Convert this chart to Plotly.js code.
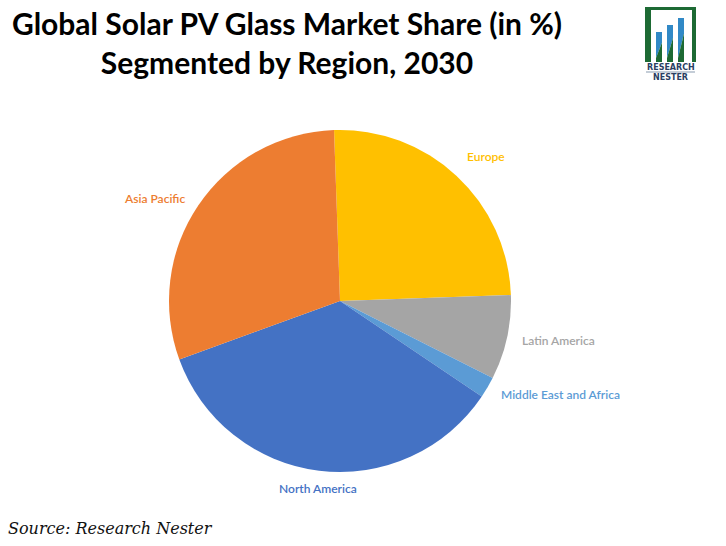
<!DOCTYPE html>
<html>
<head>
<meta charset="utf-8">
<script src="https://cdn.plot.ly/plotly-3.0.1.min.js"></script>
<style>html,body{margin:0;padding:0;background:#fff;}#chart{width:726px;height:546px;}</style>
</head>
<body>
<div id="chart"></div>
<script>
// ---- data ----
const regions = ['Europe', 'Latin America', 'Middle East and Africa', 'North America', 'Asia Pacific'];
const shares = [25, 8, 2, 35, 30];
const colors = ['#FFC000', '#A5A5A5', '#5B9BD5', '#4472C4', '#ED7D31'];
const titleLines = ['Global Solar PV Glass Market Share (in %)', 'Segmented by Region, 2030'];
const sourceText = 'Source: Research Nester';

// ---- geometry (pixels) ----
const W = 726, H = 546;
const cx = 340, cy = 301, R = 171;
const rotation = -2;
const px = x => x / W;
const py = y => 1 - y / H;

// label annotations computed from the slice angles
const total = shares.reduce((a, b) => a + b, 0);
let start = rotation;
const labelAnns = regions.map((name, i) => {
  const span = shares[i] / total * 360;
  const mid = (start + span / 2) * Math.PI / 180;
  start += span;
  const s = Math.sin(mid), c = Math.cos(mid);
  const rr = R + (Math.abs(c) > 0.9 ? 8 : 13);
  const x = cx + rr * s, y = cy - rr * c;
  const xanchor = s > 0.3 ? 'left' : (s < -0.3 ? 'right' : 'center');
  const yanchor = c > 0.6 ? 'bottom' : (c < -0.6 ? 'top' : 'middle');
  return {
    text: name, x: px(x), y: py(y), xref: 'paper', yref: 'paper',
    xanchor, yanchor, showarrow: false,
    font: {family: 'Lato, sans-serif', size: 12, color: colors[i], weight: 600}
  };
});

// logo shapes
const green = '#1d6a34', blue = '#3189c6';
const shapes = [];
function rectPx(x0, y0, x1, y1, color) {
  shapes.push({type: 'rect', xref: 'paper', yref: 'paper', x0: px(x0), x1: px(x1), y0: py(y1), y1: py(y0),
    fillcolor: color, line: {width: 0}, layer: 'above'});
}
function polyPx(pts, color) {
  const d = 'M' + pts.map(p => px(p[0]) + ',' + py(p[1])).join(' L') + ' Z';
  shapes.push({type: 'path', xref: 'paper', yref: 'paper', path: d, fillcolor: color, line: {width: 0}, layer: 'above'});
}
// frame
rectPx(645, 7, 696, 10, green);
rectPx(645, 7, 651, 62, green);
rectPx(692, 7, 696, 62, green);
// bars
[[656, 662, 32], [667, 673, 25], [678, 684, 18]].forEach(([x0, x1, t]) => {
  const b = 62;
  polyPx([[x0, t], [x1, t], [x1, t + (b - t) * 0.35], [x0, b - 4]], blue);
  polyPx([[x1, t + (b - t) * 0.35], [x1, b], [x0, b], [x0, b - 4]], green);
});
// underline in logo
rectPx(646, 71.5, 695, 72.5, '#8a9bb0');

const logoAnns = [
  {text: '<b>RESEARCH</b>', x: px(670.5), y: py(67), xref: 'paper', yref: 'paper', showarrow: false,
   xanchor: 'center', yanchor: 'middle', font: {family: 'DejaVu Sans', size: 8, color: '#2b3f63'}},
  {text: '<b>NESTER</b>', x: px(670.5), y: py(77.5), xref: 'paper', yref: 'paper', showarrow: false,
   xanchor: 'center', yanchor: 'middle', font: {family: 'DejaVu Sans', size: 8, color: '#2b3f63'}}
];

const sourceAnn = {
  text: '<i>' + sourceText + '</i>', x: px(6), y: py(528), xref: 'paper', yref: 'paper', showarrow: false,
  xanchor: 'left', yanchor: 'middle', font: {family: 'DejaVu Serif, serif', size: 16, color: '#111'}
};

const trace = {
  type: 'pie',
  labels: regions,
  values: shares,
  sort: false,
  direction: 'clockwise',
  rotation: rotation,
  marker: {colors: colors, line: {width: 0}},
  textinfo: 'none',
  hoverinfo: 'label+percent',
  showlegend: false,
  domain: {x: [px(cx - R), px(cx + R)], y: [py(cy + R), py(cy - R)]}
};

const layout = {
  width: W, height: H,
  margin: {l: 0, r: 0, t: 0, b: 0},
  paper_bgcolor: '#fff',
  title: {
    text: '<b>' + titleLines.join('<br>') + '</b>',
    x: px(287), xanchor: 'center', xref: 'paper',
    y: py(35), yanchor: 'middle', yref: 'container',
    font: {family: 'Lato, sans-serif', size: 30, color: '#000'}
  },
  shapes: shapes,
  annotations: labelAnns.concat(logoAnns, [sourceAnn])
};

Plotly.newPlot('chart', [trace], layout, {displayModeBar: false, staticPlot: true});
</script>
</body>
</html>
